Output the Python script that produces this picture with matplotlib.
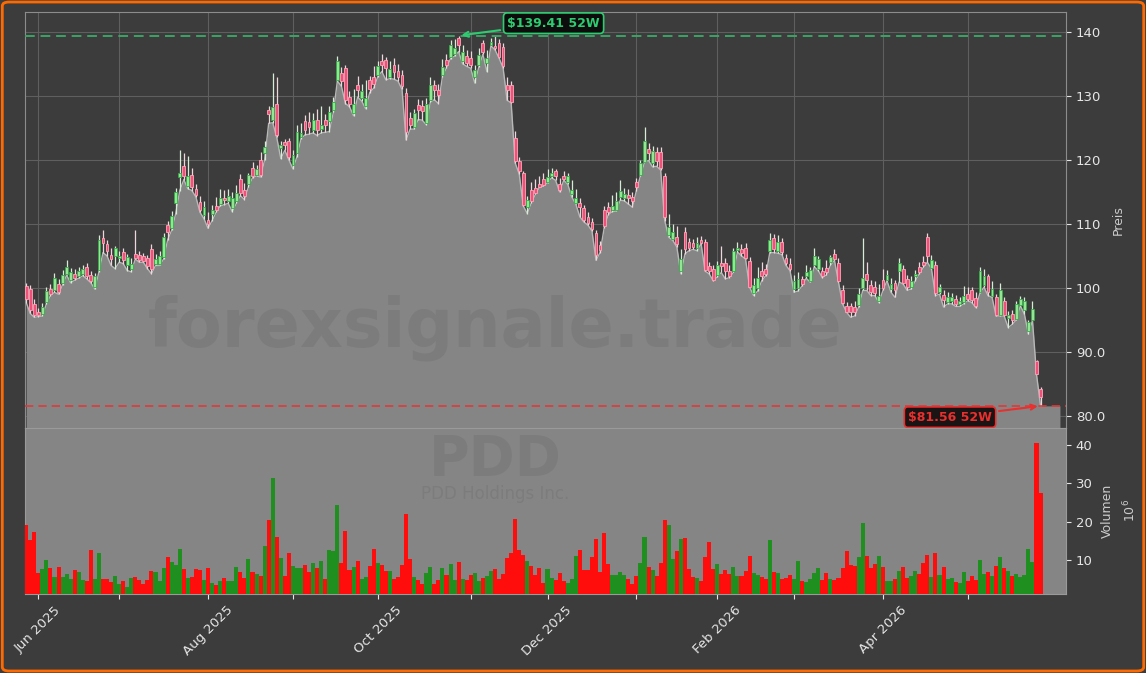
import numpy as np
import pandas as pd
import matplotlib
matplotlib.use("Agg")
import matplotlib.pyplot as plt
from matplotlib.patches import FancyBboxPatch

# ---------------- data ----------------
holidays = ['2025-06-19', '2025-07-04', '2025-09-01', '2025-11-27', '2025-12-25',
            '2026-01-01', '2026-01-19', '2026-02-16', '2026-04-03', '2026-05-25']
dates = pd.bdate_range('2025-05-28', '2026-05-28', freq='C', holidays=holidays)

low = [
    97.7, 96.0, 95.4, 95.5, 95.6, 97.5, 98.8, 99.3, 99.0, 100.5,
    102.0, 100.8, 101.2, 101.5, 101.9, 101.4, 100.8, 99.8, 102.5, 105.5,
    105.0, 103.5, 103.0, 104.0, 103.8, 102.7, 102.5, 104.5, 104.0, 104.0,
    103.0, 102.2, 103.5, 103.5, 104.5, 107.5, 109.0, 111.6, 115.2, 116.9,
    115.5, 115.2, 114.2, 111.8, 110.8, 109.3, 110.5, 111.8, 112.8, 113.0,
    113.2, 111.9, 113.2, 114.4, 113.8, 115.8, 117.2, 117.5, 117.3, 120.0,
    125.7, 125.8, 123.5, 120.2, 121.5, 120.0, 118.6, 120.5, 123.3, 123.9,
    124.0, 124.2, 123.8, 124.2, 124.3, 124.4, 127.4, 132.3, 131.5, 128.8,
    128.3, 126.9, 129.8, 129.2, 128.0, 130.5, 131.2, 133.0, 133.8, 132.5,
    132.7, 132.6, 132.3, 131.0, 123.1, 124.8, 124.8, 126.3, 126.2, 125.5,
    129.0, 129.4, 128.8, 133.0, 134.4, 135.8, 136.2, 136.9, 135.0, 134.6,
    134.3, 132.0, 134.5, 136.5, 133.8, 137.8, 137.2, 135.9, 134.4, 129.3,
    128.9, 119.5, 117.8, 112.8, 111.6, 113.3, 114.6, 115.7, 115.9, 116.4,
    117.2, 116.8, 115.0, 116.8, 116.2, 114.2, 113.1, 111.1, 110.3, 109.8,
    108.9, 104.3, 105.5, 109.3, 111.4, 111.9, 112.0, 113.7, 113.6, 113.1,
    112.6, 115.2, 117.5, 119.6, 119.9, 118.9, 119.0, 118.4, 110.5, 107.9,
    107.4, 106.4, 102.2, 105.3, 105.8, 106.0, 105.8, 106.9, 102.6, 102.2,
    101.1, 101.7, 102.4, 101.4, 101.6, 102.4, 105.6, 105.0, 104.5, 100.1,
    98.8, 99.5, 101.1, 101.9, 105.5, 105.5, 105.4, 105.2, 103.5, 102.7,
    99.3, 99.5, 100.3, 101.5, 100.9, 103.3, 102.7, 101.6, 102.0, 103.5,
    104.3, 100.9, 97.5, 96.2, 95.4, 95.6, 97.0, 99.6, 99.6, 98.8,
    98.8, 97.7, 99.6, 101.1, 99.3, 98.5, 100.9, 100.6, 99.6, 99.8,
    101.1, 102.2, 103.2, 104.0, 103.0, 98.8, 99.0, 97.0, 97.5, 97.5,
    97.1, 97.1, 97.5, 98.0, 97.7, 96.9, 99.2, 100.1, 98.8, 98.5,
    95.6, 95.6, 95.6, 93.8, 94.3, 95.0, 97.2, 95.9, 92.8, 94.9,
    86.5, 81.56]

body_lo = [
    98.2, 96.5, 95.8, 95.7, 95.9, 97.8, 99.0, 99.6, 99.4, 100.8,
    102.2, 101.2, 101.5, 101.8, 102.1, 101.8, 101.0, 100.2, 102.8, 107.0,
    105.8, 104.5, 105.0, 104.6, 104.3, 103.6, 102.9, 104.7, 104.3, 104.2,
    103.4, 103.0, 103.7, 103.8, 104.8, 108.8, 109.3, 113.2, 117.3, 117.4,
    115.9, 115.8, 114.5, 112.1, 111.4, 109.9, 111.5, 112.2, 113.1, 113.7,
    113.5, 112.5, 113.5, 114.8, 114.3, 116.3, 117.5, 117.7, 117.7, 121.0,
    127.2, 126.2, 123.9, 121.8, 122.3, 120.5, 119.2, 121.0, 123.6, 124.7,
    125.2, 124.7, 124.7, 124.8, 125.5, 126.0, 127.8, 132.5, 132.3, 129.4,
    128.8, 127.3, 130.9, 129.6, 128.4, 131.0, 131.8, 133.3, 134.8, 134.3,
    133.0, 133.8, 132.9, 131.5, 124.4, 125.5, 125.2, 127.8, 127.6, 125.7,
    129.4, 130.9, 130.2, 133.3, 134.8, 136.1, 136.6, 137.9, 135.5, 135.2,
    134.8, 133.0, 134.8, 136.9, 135.1, 138.0, 137.4, 136.1, 134.6, 130.9,
    129.1, 119.8, 118.2, 113.0, 112.7, 113.5, 114.8, 115.8, 116.1, 116.6,
    117.4, 117.4, 115.3, 117.0, 116.6, 114.6, 113.3, 112.7, 110.6, 110.2,
    109.2, 105.2, 105.9, 109.6, 111.8, 112.2, 112.2, 114.2, 114.0, 114.0,
    113.5, 115.8, 117.6, 119.7, 121.0, 119.5, 119.8, 118.7, 111.0, 108.3,
    107.7, 106.8, 102.6, 106.0, 106.2, 106.4, 106.2, 107.0, 102.8, 102.6,
    101.3, 102.0, 103.4, 102.6, 101.8, 102.6, 105.9, 105.5, 104.7, 100.2,
    99.2, 100.0, 101.8, 102.2, 105.7, 106.0, 105.8, 105.6, 103.9, 103.0,
    99.8, 100.0, 100.6, 101.8, 101.0, 103.6, 103.0, 101.8, 102.4, 104.1,
    104.5, 101.0, 97.6, 96.3, 96.3, 96.2, 97.3, 99.9, 101.2, 99.4,
    99.2, 98.0, 100.0, 101.3, 99.8, 99.7, 102.6, 100.7, 100.2, 100.1,
    101.8, 102.5, 103.5, 104.9, 103.1, 99.2, 99.4, 98.1, 97.8, 97.9,
    97.5, 97.4, 97.8, 98.3, 98.1, 97.2, 99.4, 100.4, 99.4, 98.8,
    95.8, 95.8, 95.8, 95.3, 95.0, 95.1, 97.3, 96.6, 93.2, 95.0,
    86.5, 82.9]

body_hi = [
    100.3, 99.8, 97.5, 96.3, 97.0, 99.5, 99.8, 101.6, 100.6, 102.0,
    103.2, 102.5, 102.2, 102.6, 102.9, 103.2, 102.0, 101.8, 107.5, 107.8,
    106.9, 105.2, 106.2, 105.0, 105.6, 104.8, 103.8, 105.3, 105.1, 105.0,
    104.6, 106.0, 104.5, 105.0, 107.9, 109.8, 111.2, 115.0, 117.9, 119.0,
    117.4, 117.6, 115.5, 113.4, 112.7, 110.6, 112.1, 112.8, 114.0, 114.1,
    114.3, 114.0, 114.8, 117.0, 115.3, 117.6, 118.8, 118.5, 120.0, 122.0,
    127.8, 128.3, 128.7, 122.3, 122.8, 122.9, 120.8, 124.4, 124.2, 126.0,
    125.9, 126.3, 126.3, 125.5, 126.3, 127.5, 129.1, 135.4, 133.5, 134.3,
    129.8, 128.8, 131.7, 130.8, 129.6, 132.4, 133.0, 134.6, 135.4, 135.6,
    134.2, 134.8, 133.9, 133.3, 130.4, 126.5, 127.3, 128.6, 128.4, 128.8,
    131.7, 131.7, 130.9, 134.5, 135.6, 138.0, 137.4, 139.0, 136.8, 136.2,
    135.9, 134.1, 136.4, 138.2, 135.9, 138.4, 137.8, 138.2, 137.7, 131.7,
    131.7, 123.4, 119.8, 117.9, 113.8, 115.3, 115.6, 116.3, 117.0, 117.3,
    117.9, 118.2, 116.3, 117.5, 117.5, 115.3, 114.0, 113.2, 112.4, 111.0,
    110.3, 108.5, 106.7, 112.2, 112.6, 112.8, 113.5, 115.1, 114.6, 114.5,
    114.2, 116.5, 119.5, 122.9, 121.7, 121.4, 121.2, 121.3, 117.5, 109.5,
    108.8, 108.0, 104.5, 108.8, 107.2, 107.0, 107.0, 107.4, 107.2, 103.4,
    103.0, 103.6, 103.9, 103.9, 102.6, 105.7, 106.2, 106.1, 106.3, 104.2,
    100.4, 101.5, 102.7, 103.0, 107.5, 107.8, 107.2, 107.2, 104.7, 103.7,
    101.0, 101.4, 101.4, 102.5, 102.8, 104.9, 104.5, 102.7, 103.1, 104.8,
    105.3, 103.9, 99.7, 97.2, 97.2, 97.0, 99.0, 101.5, 102.2, 100.5,
    100.2, 98.8, 101.2, 102.0, 100.6, 100.7, 103.9, 102.9, 101.4, 101.0,
    102.2, 103.2, 104.0, 108.0, 104.4, 103.6, 100.1, 98.9, 98.6, 98.5,
    98.2, 98.0, 98.8, 99.0, 99.7, 98.4, 102.6, 101.8, 101.8, 99.8,
    98.6, 99.7, 97.9, 95.8, 95.9, 97.5, 98.2, 97.9, 94.6, 96.7,
    88.6, 84.2]

high = [
    100.8, 100.4, 98.2, 96.9, 97.6, 100.2, 100.6, 102.3, 101.4, 102.8,
    104.4, 103.1, 103.0, 103.3, 103.6, 103.9, 102.6, 102.3, 108.3, 109.0,
    107.5, 106.3, 106.6, 105.8, 106.2, 105.3, 104.6, 109.0, 105.7, 105.5,
    105.2, 106.8, 105.3, 105.8, 108.6, 110.5, 112.0, 115.6, 121.5, 121.0,
    120.6, 118.8, 116.3, 114.3, 113.6, 111.8, 113.0, 114.2, 115.5, 115.3,
    115.5, 115.0, 116.0, 117.8, 116.4, 118.0, 119.6, 119.2, 121.2, 123.0,
    128.4, 133.5, 132.9, 123.0, 123.3, 123.4, 121.5, 125.5, 125.8, 127.0,
    127.5, 127.3, 128.0, 128.4, 127.2, 128.4, 129.8, 136.2, 134.5, 134.8,
    130.8, 131.0, 133.1, 131.8, 132.5, 133.1, 134.6, 135.5, 136.6, 136.0,
    135.5, 135.9, 135.0, 134.0, 131.2, 127.5, 128.0, 129.5, 129.3, 129.7,
    133.0, 132.5, 131.8, 135.7, 136.5, 138.7, 138.9, 139.41, 138.0, 137.2,
    137.0, 134.8, 137.5, 138.8, 137.2, 139.0, 139.3, 138.9, 138.3, 133.0,
    132.3, 124.5, 120.5, 118.3, 114.4, 116.5, 117.0, 117.5, 118.0, 118.6,
    118.8, 118.6, 117.2, 118.2, 117.9, 116.8, 115.5, 114.0, 113.0, 111.8,
    110.9, 109.0, 107.3, 112.8, 113.4, 114.5, 115.0, 116.8, 115.6, 115.4,
    114.9, 117.2, 120.0, 125.2, 122.6, 122.2, 122.0, 122.0, 118.0, 111.5,
    110.0, 109.7, 106.0, 109.5, 107.8, 107.7, 107.9, 108.1, 107.6, 104.1,
    103.6, 104.2, 106.6, 104.6, 103.5, 106.2, 107.2, 106.9, 107.0, 104.8,
    101.5, 103.3, 104.0, 103.7, 108.5, 108.4, 108.2, 107.8, 105.3, 104.6,
    102.0, 102.4, 101.8, 103.5, 103.3, 106.2, 105.0, 103.3, 104.3, 105.2,
    106.1, 104.6, 100.4, 97.8, 97.6, 98.0, 100.0, 107.8, 104.0, 101.3,
    101.0, 100.6, 103.0, 102.8, 101.5, 101.2, 104.7, 103.5, 102.0, 101.8,
    102.8, 104.0, 105.0, 108.6, 105.1, 104.2, 100.6, 99.6, 99.4, 99.2,
    98.9, 98.6, 100.3, 100.2, 100.2, 99.3, 103.3, 103.0, 102.2, 101.0,
    99.0, 100.8, 98.6, 96.4, 96.5, 98.0, 98.8, 98.5, 95.0, 98.0,
    88.8, 84.5]

# r = falling candle / red volume bar, g = rising candle / green volume bar
direction = ("rrrrggrgrg" "ggrggrrggr" "rrggrggrrr" "rrgggrgggr" "grrrgrgrgr"
             "gggrrgrgrg" "rgrgrrgggr" "rgrgrgggrr" "rgrggrrgrr" "grr"
             "rrrgrrg" "grrgrggrgr" "rggrggrrrr" "rrrrgrrrrg" "grrrgggrrr"
             "rrrrrggggr" "rrggrgrrrg" "grgrrrgrrr" "rgrrrggrrr" "gg"
             "rrgrgrrrgg" "rggggrrgrr" "rrrrggrrrg" "rggrgrrggr" "rrgrgrggrg"
             "grrrggrgrg" "rgrgggggrr")

volume_m = [
    19.1, 15.2, 17.3, 6.5, 7.6, 10.0, 7.9, 5.6, 8.1, 5.6,
    6.3, 5.0, 7.3, 6.8, 4.8, 4.5, 12.6, 5.0, 11.8, 5.0,
    5.0, 4.2, 5.8, 3.7, 4.5, 3.0, 5.3, 5.6, 4.8, 3.7,
    4.8, 7.1, 6.8, 4.5, 7.9, 10.8, 9.5, 8.7, 12.9, 7.6,
    5.3, 5.6, 7.6, 7.3, 4.8, 7.9, 3.9, 3.4, 4.5, 5.3,
    4.5, 4.5, 8.1, 6.8, 5.3, 10.3, 6.8, 6.3, 5.8, 13.6,
    20.4, 31.4, 16.0, 10.5, 5.8, 11.7, 8.4, 7.9, 7.9, 8.7,
    6.8, 9.2, 7.9, 9.7, 5.0, 12.6, 12.4, 24.3, 9.2, 17.6,
    7.3, 8.1, 9.7, 5.0, 5.6, 8.4, 12.9, 9.2, 8.7, 7.1,
    7.1, 5.0, 5.6,
    8.7, 22.0, 10.3, 5.6, 4.8, 3.7, 6.6,
    8.1, 3.7, 4.8, 7.9, 6.1, 8.9, 4.8, 9.5, 5.0, 4.8,
    6.1, 6.6, 4.5, 5.3, 5.8, 7.1, 7.6, 5.0, 6.3, 10.5,
    11.8, 20.7, 12.6, 11.3, 9.7, 8.4, 6.1, 7.9, 3.9, 7.6,
    5.3, 4.8, 6.6, 4.5, 3.9, 5.0, 11.0, 12.6, 7.3, 7.3,
    10.8, 15.4, 6.8, 16.9, 8.9, 6.1, 6.1, 6.8, 6.1, 5.0,
    3.7, 5.8, 9.2, 16.0, 8.1, 7.3, 5.8, 9.2, 20.4, 19.1,
    10.3, 12.4, 15.4, 15.7, 7.6, 5.6, 5.3, 4.5, 10.8, 14.6,
    7.6, 8.9, 6.3, 7.3, 6.3, 8.1, 5.8, 5.8, 7.1, 11.0,
    6.6, 6.1,
    5.6, 5.0, 15.2, 6.8, 6.6, 5.0, 5.3, 6.1, 5.0, 9.7,
    4.5, 4.2, 5.0, 6.6, 7.9, 4.8, 6.6, 5.0, 4.8, 5.3,
    7.9, 12.4, 8.7, 8.4, 10.8, 19.7, 11.0, 7.9, 8.9, 11.0,
    8.1, 4.5, 4.5, 5.0, 7.1, 8.1, 5.3, 5.8, 7.1, 6.3,
    9.2, 11.3, 5.6, 11.8, 6.1, 8.1, 5.0, 5.3, 4.2, 3.9,
    6.8, 4.5, 5.8, 4.8, 10.0, 6.3, 6.8, 5.8, 8.4, 10.8,
    7.9, 7.1, 5.8, 6.3, 5.6, 6.1, 12.9, 9.5, 40.5, 27.5]

high_52w = 139.41
low_52w = 81.56
ticker = "PDD"
company = "PDD Holdings Inc."
price_ticks = [80, 90, 100, 110, 120, 130, 140]
price_tick_labels = ["80.0", "90.0", "100", "110", "120", "130", "140"]
vol_ticks = [10, 20, 30, 40]

# ---------------- styling ----------------
BG = "#3c3c3c"
AREA = "#858585"
n = len(low)
x = np.arange(n)
is_up = np.array([c == "g" for c in direction])

fig = plt.figure(figsize=(11.46, 6.73), dpi=100, facecolor=BG)
ax = fig.add_axes([0.0218, 0.3640, 0.9084, 0.6182], facecolor=BG)
axv = fig.add_axes([0.0218, 0.1174, 0.9084, 0.2467], facecolor=AREA, sharex=ax)

# area under the lows
x_fill = np.append(x, 255.8)
y_fill = np.append(np.array(low), low[-1])
ax.fill_between(x_fill, y_fill, 70, color=AREA, zorder=2, linewidth=0)
ax.plot(x, low, color="#b8b8b8", lw=1.0, zorder=2.5)

# candles
wick_col = np.where(is_up, "#d6ecd6", "#eed6dc")
ax.vlines(x, low, high, colors=wick_col, lw=0.9, zorder=3)
face = np.where(is_up, "#92e892", "#f0507a")
edge = np.where(is_up, "#3aa84a", "#ffa6b8")
ax.bar(x, np.array(body_hi) - np.array(body_lo), bottom=body_lo, width=0.7,
       color=face, edgecolor=edge, linewidth=0.6, zorder=4)

# 52-week lines
ax.axhline(high_52w, color="#3aa466", lw=1.4, ls=(0, (5, 3)), zorder=3.5)
ax.axhline(low_52w, color="#e03a3a", lw=1.2, ls=(0, (5, 3)), zorder=3.5)
i_hi = int(np.argmax(high))
i_lo = int(np.argmin(low))
ax.annotate(f"${high_52w:.2f} 52W", xy=(i_hi, high_52w), xytext=(130.5, 141.35),
            ha="center", va="center", fontsize=9, fontweight="bold", color="#2ecc71",
            bbox=dict(boxstyle="round,pad=0.3", fc="#0d0d0d", ec="#2ecc71", lw=1.2),
            arrowprops=dict(arrowstyle="->", color="#2ecc71", lw=1.5), zorder=6)
ax.annotate(f"${low_52w:.2f} 52W", xy=(i_lo, low_52w), xytext=(228.6, 79.8),
            ha="center", va="center", fontsize=9, fontweight="bold", color="#e8302e",
            bbox=dict(boxstyle="round,pad=0.3", fc="#1a1414", ec="#e8302e", lw=1.2),
            arrowprops=dict(arrowstyle="->", color="#e8302e", lw=1.5), zorder=6)

ax.set_ylim(78.1, 143.1)
ax.set_xlim(-0.3, 257.3)
ax.yaxis.tick_right()
ax.set_yticks(price_ticks)
ax.set_yticklabels(price_tick_labels)
ax.yaxis.set_label_position("right")
ax.set_ylabel("Preis", color="#cccccc", fontsize=9, labelpad=5)
ax.grid(True, color="#5f5f5f", lw=0.8, zorder=0)
ax.set_axisbelow(True)
ax.tick_params(axis="y", colors="#e6e6e6", labelsize=9.5, length=3.5)
ax.tick_params(axis="x", labelbottom=False, length=0)
for s in ax.spines.values():
    s.set_color("#8c8c8c")

# volume
vcol = np.where(is_up, "#1f8f1f", "#ff0d0d")
axv.bar(x, volume_m, width=1.0, color=vcol, linewidth=0, zorder=3)
axv.set_ylim(1.1, 44.4)
axv.yaxis.tick_right()
axv.set_yticks(vol_ticks)
axv.yaxis.set_label_position("right")
axv.set_ylabel("Volumen\n$10^{6}$", color="#cccccc", fontsize=9, labelpad=6,
               linespacing=1.6)
axv.tick_params(axis="y", colors="#e6e6e6", labelsize=9.5, length=3.5)
axv.tick_params(axis="x", colors="#e6e6e6", labelsize=9.5, length=3.5)
for s in axv.spines.values():
    s.set_color("#9a9a9a")

# month ticks (first trading day of each month)
months = dates.to_period("M")
tick_pos, tick_lab = [], []
for i in range(1, n):
    if months[i] != months[i - 1]:
        tick_pos.append(i)
        d = dates[i]
        tick_lab.append(d.strftime("%b %Y") if d.month % 2 == 0 else "")
axv.set_xticks(tick_pos)
axv.set_xticklabels(tick_lab, rotation=45, ha="center")

# watermarks
wm = dict(color="#5a5a5a", alpha=0.2, ha="center", va="center", zorder=1)
fig.text(495 / 1146, 1 - 328 / 673, "forexsignale.trade", fontsize=48,
         fontweight="bold", **wm)
fig.text(495 / 1146, 1 - 460 / 673, ticker, fontsize=40, fontweight="bold", **wm)
fig.text(495 / 1146, 1 - 494 / 673, company, fontsize=12, **wm)

# orange frame
fig.patches.append(FancyBboxPatch((0.002, 0.003), 0.996, 0.994,
                                  boxstyle="round,pad=0,rounding_size=0.006",
                                  transform=fig.transFigure, fc="none",
                                  ec="#ff6a00", lw=2.0))

fig.savefig("out.png", dpi=100, facecolor=BG)
